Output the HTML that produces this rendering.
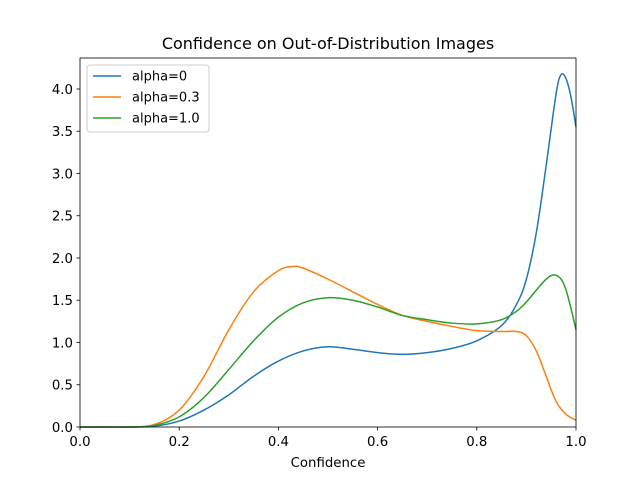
<!DOCTYPE html>
<html><head><meta charset="utf-8"><style>
body{margin:0;background:#fff;font-family:"Liberation Sans","DejaVu Sans",sans-serif}
svg text{font-family:"DejaVu Sans","Liberation Sans",sans-serif}
</style></head><body>
<svg id="chart" width="640" height="480" xmlns="http://www.w3.org/2000/svg">
<rect width="640" height="480" fill="#fff"/>
<text x="328" y="49" font-size="16" text-anchor="middle">Confidence on Out-of-Distribution Images</text>
<g id="plot"></g>
<rect x="80" y="58" width="496" height="369" fill="none" stroke="#000" stroke-width="0.8"/>
<text x="328" y="467" font-size="13.3" text-anchor="middle">Confidence</text>
<g id="axes"></g>
<g>
<rect x="87" y="65" width="122" height="67" rx="3" fill="#fff" fill-opacity="0.8" stroke="#ccc"/>
<line x1="93" x2="121" y1="76" y2="76" stroke="#1f77b4" stroke-width="1.5"/>
<text x="132" y="80.5" font-size="13">alpha=0</text>
<line x1="93" x2="121" y1="97" y2="97" stroke="#ff7f0e" stroke-width="1.5"/>
<text x="132" y="101.5" font-size="13">alpha=0.3</text>
<line x1="93" x2="121" y1="118" y2="118" stroke="#2ca02c" stroke-width="1.5"/>
<text x="132" y="122.5" font-size="13">alpha=1.0</text>
</g>
</svg>
<script>
const blueX=[0,0.1,0.15,0.2,0.25,0.3,0.35,0.4,0.45,0.5,0.55,0.6,0.65,0.7,0.75,0.8,0.85,0.88,0.9,0.92,0.94,0.96,0.97,0.98,0.99,1.0];
const blueY=[0,0,0.01,0.07,0.2,0.38,0.6,0.78,0.9,0.95,0.92,0.88,0.86,0.88,0.93,1.02,1.2,1.45,1.75,2.3,3.1,3.95,4.17,4.12,3.9,3.55];
const orangeX=[0,0.1,0.15,0.2,0.25,0.3,0.35,0.4,0.43,0.45,0.5,0.55,0.6,0.65,0.7,0.75,0.8,0.85,0.88,0.9,0.92,0.94,0.96,0.98,1.0];
const orangeY=[0,0,0.03,0.2,0.6,1.15,1.6,1.85,1.9,1.88,1.75,1.6,1.45,1.32,1.25,1.19,1.14,1.13,1.13,1.08,0.9,0.6,0.3,0.15,0.08];
const greenX=[0,0.1,0.15,0.2,0.25,0.3,0.35,0.4,0.45,0.5,0.55,0.6,0.65,0.7,0.75,0.8,0.85,0.88,0.9,0.92,0.94,0.955,0.97,0.98,0.99,1.0];
const greenY=[0,0,0.02,0.12,0.35,0.68,1.02,1.3,1.47,1.53,1.5,1.42,1.32,1.27,1.23,1.22,1.27,1.37,1.48,1.62,1.75,1.8,1.75,1.62,1.4,1.15];
const xTicks=[0,0.2,0.4,0.6,0.8,1.0];
const yTicks=[0,0.5,1,1.5,2,2.5,3,3.5,4];
const xs=v=>80+v*496, ys=v=>427-v*84.5;
const NS="http://www.w3.org/2000/svg";
const plot=document.getElementById('plot'), axes=document.getElementById('axes');
function mk(t,a,p){const e=document.createElementNS(NS,t);for(const k in a)e.setAttribute(k,a[k]);p.appendChild(e);return e;}
function smooth(X,Y){
 const P=X.map((x,i)=>[xs(x),ys(Y[i])]);
 let d='M'+P[0][0]+','+P[0][1];
 for(let i=0;i<P.length-1;i++){
  const p0=P[Math.max(0,i-1)],p1=P[i],p2=P[i+1],p3=P[Math.min(P.length-1,i+2)];
  const c1=[p1[0]+(p2[0]-p0[0])/6,p1[1]+(p2[1]-p0[1])/6];
  const c2=[p2[0]-(p3[0]-p1[0])/6,p2[1]-(p3[1]-p1[1])/6];
  d+=' C'+c1+' '+c2+' '+p2;
 }
 return d;
}
[[blueX,blueY,'#1f77b4','alpha-0'],[orangeX,orangeY,'#ff7f0e','alpha-0.3'],[greenX,greenY,'#2ca02c','alpha-1.0']].forEach(s=>{
 const e=mk('path',{d:smooth(s[0],s[1]),fill:'none',stroke:s[2],'stroke-width':1.5},plot);
 
 
});
xTicks.forEach(v=>{
 mk('line',{x1:xs(v),x2:xs(v),y1:427,y2:430.5,stroke:'#000','stroke-width':0.8},axes);
 const t=mk('text',{x:xs(v),y:446,'font-size':13.3,'text-anchor':'middle'},axes);t.textContent=v.toFixed(1);
 
 
});
yTicks.forEach(v=>{
 mk('line',{x1:76.5,x2:80,y1:ys(v),y2:ys(v),stroke:'#000','stroke-width':0.8},axes);
 const t=mk('text',{x:73,y:ys(v)+4.8,'font-size':13.3,'text-anchor':'end'},axes);t.textContent=v.toFixed(1);
 
 
});
</script>
</body></html>
